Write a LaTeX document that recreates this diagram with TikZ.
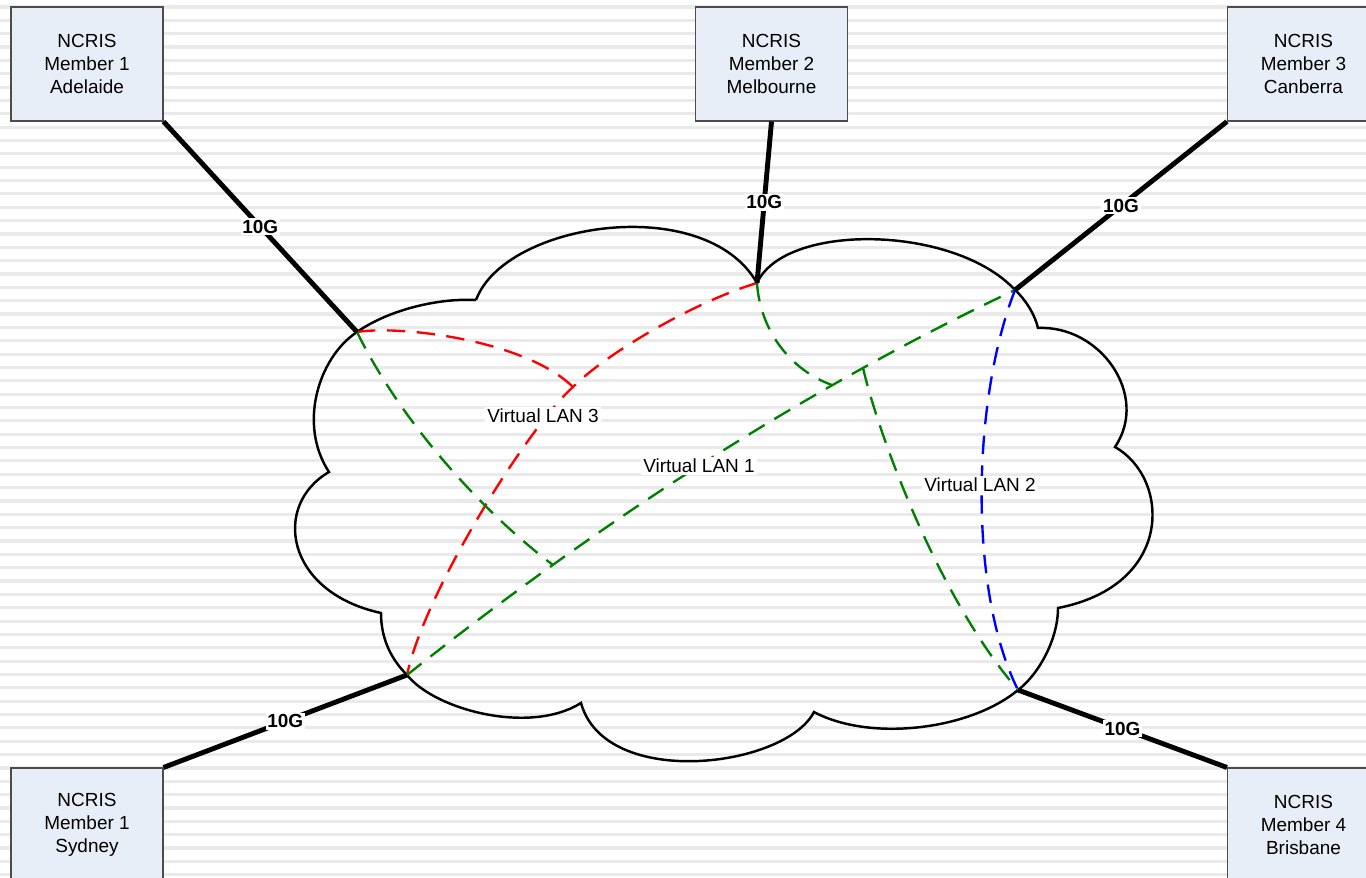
\documentclass[tikz,border=0pt]{standalone}
\usepackage{fontspec}
\setmainfont{Liberation Sans}
\definecolor{siteblue}{RGB}{232,238,247}
\definecolor{stripegray}{RGB}{234,234,234}
\definecolor{vgreen}{RGB}{0,128,0}

\begin{document}
\begin{tikzpicture}[x=0.02cm,y=-0.02cm,
  site/.style={draw=black!70,line width=0.6pt,fill=siteblue,minimum width=3.04cm,minimum height=2.28cm,inner sep=0pt,align=center,font=\fontsize{10.8}{12.9}\selectfont},
  link/.style={line width=2.8pt},
  rate/.style={fill=white,inner sep=1pt,font=\fontsize{10.8}{12}\selectfont\bfseries},
  vlan/.style={line width=1.35pt,dash pattern=on 10.5pt off 6.5pt},
  vlanlabel/.style={fill=white,inner sep=1.2pt,font=\fontsize{10.8}{12}\selectfont}]
\useasboundingbox (0,0) rectangle (1366,878);
\clip (0,0) rectangle (1366,878);
% striped background
\foreach \k in {0,...,65} \draw[stripegray,line width=1.8pt] (0,{7+13.35*\k}) -- (1366,{7+13.35*\k});
% hubs on the cloud and cloud corners
\coordinate (h1) at (357,332); \coordinate (h2) at (757,283); \coordinate (h3) at (1015,290);
\coordinate (h4) at (407,675); \coordinate (h5) at (1018,690);
\coordinate (c1) at (476,300); \coordinate (c3) at (1038,328); \coordinate (c4) at (1115,447);
\coordinate (c5) at (1058,608); \coordinate (c6) at (814,712); \coordinate (c7) at (581,703);
\coordinate (c8) at (381,613); \coordinate (c9) at (329,472);
\draw[line width=1.4pt,line join=miter] (c1)
  .. controls (505,222) and (705,192) .. (h2)
  .. controls (785,222) and (955,225) .. (h3)
  .. controls (1026,300) and (1035,315) .. (c3)
  .. controls (1100,325) and (1150,395) .. (c4)
  .. controls (1170,478) and (1175,585) .. (c5)
  .. controls (1058,640) and (1038,675) .. (h5)
  .. controls (970,730) and (870,742) .. (c6)
  .. controls (785,768) and (605,790) .. (c7)
  .. controls (530,735) and (435,710) .. (h4)
  .. controls (392,660) and (381,640) .. (c8)
  .. controls (285,592) and (272,505) .. (c9)
  .. controls (298,425) and (318,358) .. (h1)
  .. controls (390,309) and (440,298) .. (c1);
% virtual LANs
\coordinate (j3) at (573,387); \coordinate (j1a) at (553,565);
\coordinate (j1b) at (863,368); \coordinate (j1c) at (832,385);
\draw[vlan,red] (h1) .. controls (400,325) and (525,340) .. (j3);
\draw[vlan,red] (h2) .. controls (700,300) and (610,350) .. (j3) .. controls (530,425) and (425,590) .. (h4);
\draw[vlan,vgreen] (h4) .. controls (610,514) and (812,386) .. (h3);
\draw[vlan,vgreen] (h1) .. controls (400,420) and (480,510) .. (j1a);
\draw[vlan,vgreen] (h2) .. controls (760,330) and (790,370) .. (j1c);
\draw[vlan,vgreen] (j1b) .. controls (880,440) and (940,600) .. (h5);
\draw[vlan,blue] (h3) .. controls (972,400) and (968,590) .. (h5);
\node[vlanlabel] (lan3) at (543,416) {Virtual LAN 3};
\node[vlanlabel] (lan1) at (699,466) {Virtual LAN 1};
\node[vlanlabel] (lan2) at (980,485) {Virtual LAN 2};
% member sites
\node[site] (ade) at (87,64) {NCRIS\\Member 1\\Adelaide};
\node[site] (mel) at (771.5,64) {NCRIS\\Member 2\\Melbourne};
\node[site] (can) at (1303.5,64) {NCRIS\\Member 3\\Canberra};
\node[site] (syd) at (87,825) {NCRIS\\Member 1\\Sydney};
\node[site] (bri) at (1303.5,825) {NCRIS\\Member 4\\Brisbane};
\draw[link] (ade.south east) -- (h1) node[midway,rate] {10G};
\draw[link] (mel.south) -- (h2) node[midway,rate] {10G};
\draw[link] (can.south west) -- (h3) node[midway,rate] {10G};
\draw[link] (syd.north east) -- (h4) node[midway,rate] {10G};
\draw[link] (bri.north west) -- (h5) node[midway,rate] {10G};
\end{tikzpicture}
\end{document}
